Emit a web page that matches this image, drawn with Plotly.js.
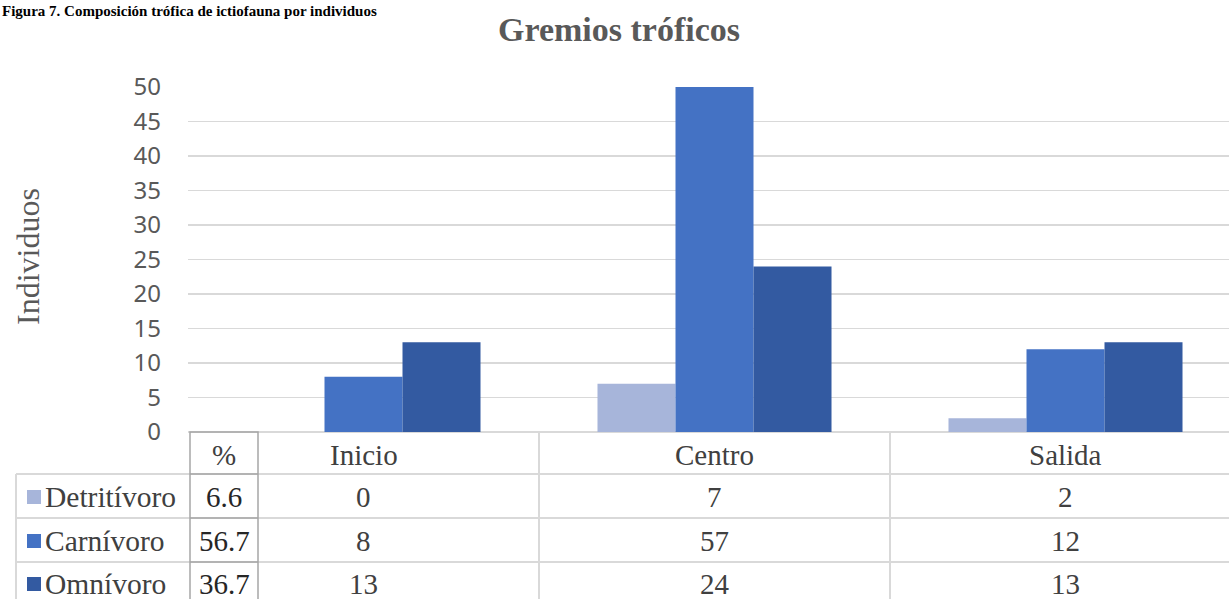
<!DOCTYPE html>
<html>
<head>
<meta charset="utf-8">
<script src="https://cdn.plot.ly/plotly-3.0.1.min.js"></script>
<style>
html,body{margin:0;padding:0;overflow:hidden;background:#fff;}
#chart{width:1260px;height:599px;}
</style>
</head>
<body>
<div id="chart"></div>
<script>
// ---- data ----
const categories = ['Inicio', 'Centro', 'Salida'];
const seriesNames = ['Detritívoro', 'Carnívoro', 'Omnívoro'];
const detritivoro = [0, 7, 2];
const carnivoro = [8, 57, 12];
const omnivoro = [13, 24, 13];
const percentages = ['6.6', '56.7', '36.7'];
const yTickValues = [0, 5, 10, 15, 20, 25, 30, 35, 40, 45, 50];
const chartTitle = 'Gremios tróficos';
const yTitle = 'Individuos';
const caption = 'Figura 7. Composición trófica de ictiofauna por individuos';
const percentHeader = '%';

// ---- styling / layout helpers ----
const colors = ['#A7B5DA', '#4472C4', '#335AA1'];
const seriesValues = [detritivoro, carnivoro, omnivoro];
const W = 1260, H = 599;
const ML = 188, MR = 19, MT = 87, MB = 167;
const plotW = W - ML - MR, plotH = H - MT - MB;
const px = x => (x - ML) / plotW;         // pixel x -> paper
const py = y => (H - MB - y) / plotH;     // pixel y -> paper
const serif = 'Liberation Serif';
const textColor = '#404040';
const gridColor = '#D9D9D9';
const boxColor = '#A6A6A6';

const traces = seriesNames.map((name, i) => ({
  type: 'bar',
  name: name,
  x: categories,
  y: seriesValues[i],
  marker: {color: colors[i], line: {width: 0}},
  hoverinfo: 'x+y+name'
}));

const rowCenters = [497, 541, 584];
const headerCenter = 455;
const annotations = [];

// caption at the very top
annotations.push({
  text: '<b>' + caption + '</b>', xref: 'paper', yref: 'paper',
  x: px(0), y: py(1), xanchor: 'left', yanchor: 'top', showarrow: false,
  font: {family: serif, size: 15, color: '#000'}
});
// y-axis title
annotations.push({
  text: yTitle, xref: 'paper', yref: 'paper', x: px(28), y: py(257),
  xanchor: 'center', yanchor: 'middle', textangle: -90, showarrow: false,
  font: {family: serif, size: 32, color: '#595959'}
});
// header row
annotations.push({
  text: percentHeader, xref: 'paper', yref: 'paper', x: px(224), y: py(headerCenter),
  xanchor: 'center', yanchor: 'middle', showarrow: false,
  font: {family: serif, size: 29, color: textColor}
});
categories.forEach(c => annotations.push({
  text: c, xref: 'x', yref: 'paper', x: c, y: py(headerCenter),
  xanchor: 'center', yanchor: 'middle', showarrow: false,
  font: {family: serif, size: 29, color: textColor}
}));
// rows
seriesNames.forEach((name, i) => {
  annotations.push({
    text: name, xref: 'paper', yref: 'paper', x: px(43), y: py(rowCenters[i]),
    xanchor: 'left', yanchor: 'middle', showarrow: false,
    font: {family: serif, size: 29.5, color: textColor}
  });
  annotations.push({
    text: percentages[i], xref: 'paper', yref: 'paper', x: px(224), y: py(rowCenters[i]),
    xanchor: 'center', yanchor: 'middle', showarrow: false,
    font: {family: serif, size: 29, color: '#262626'}
  });
  categories.forEach((c, j) => annotations.push({
    text: String(seriesValues[i][j]), xref: 'x', yref: 'paper', x: c, y: py(rowCenters[i]),
    xanchor: 'center', yanchor: 'middle', showarrow: false,
    font: {family: serif, size: 29, color: textColor}
  }));
});

// table lines
const shapes = [];
const hLine = (x0, x1, y, color, w) => shapes.push({
  type: 'line', xref: 'paper', yref: 'paper', x0: px(x0), x1: px(x1), y0: py(y), y1: py(y),
  line: {color: color, width: w}, layer: 'above'
});
const vLine = (x, y0, y1, color, w) => shapes.push({
  type: 'line', xref: 'paper', yref: 'paper', x0: px(x), x1: px(x), y0: py(y0), y1: py(y1),
  line: {color: color, width: w}, layer: 'above'
});
[474, 518, 562].forEach(y => hLine(16, W, y, gridColor, 2));
vLine(16, 474, H + 5, gridColor, 2);
// category column separators (between categories on the x scale)
[0.5, 1.5].forEach(xv => shapes.push({
  type: 'line', xref: 'x', yref: 'paper', x0: xv, x1: xv, y0: py(432), y1: py(H + 5),
  line: {color: gridColor, width: 2}
}));
// % box
shapes.push({
  type: 'rect', xref: 'paper', yref: 'paper', x0: px(190), x1: px(258), y0: py(432), y1: py(H + 5),
  line: {color: boxColor, width: 1.5}, fillcolor: 'rgba(0,0,0,0)'
});
[474, 518, 562].forEach(y => hLine(190, 258, y, boxColor, 1.5));
// legend keys
seriesNames.forEach((n, i) => shapes.push({
  type: 'rect', xref: 'paper', yref: 'paper',
  x0: px(27), x1: px(41), y0: py(rowCenters[i] - 7), y1: py(rowCenters[i] + 7),
  fillcolor: colors[i], line: {width: 0}
}));

const layout = {
  width: W, height: H,
  margin: {l: ML, r: MR, t: MT, b: MB, pad: 0},
  paper_bgcolor: '#fff', plot_bgcolor: '#fff',
  showlegend: false,
  barmode: 'group', bargap: 0.3333, bargroupgap: 0,
  title: {
    text: '<b>' + chartTitle + '</b>', xref: 'container', yref: 'container',
    x: 619 / W, y: 1 - 29 / H, xanchor: 'center', yanchor: 'middle',
    font: {family: serif, size: 34, color: '#595959'}
  },
  xaxis: {
    type: 'category', range: [-0.5, 2.5], showticklabels: false, ticks: '',
    showgrid: false, zeroline: false, showline: false, fixedrange: true
  },
  yaxis: {
    range: [0, 50], tickvals: yTickValues, ticktext: yTickValues.map(String),
    showgrid: true, gridcolor: gridColor, gridwidth: 1.5,
    zeroline: true, zerolinecolor: gridColor, zerolinewidth: 2,
    showline: false, ticks: '', ticklabelstandoff: 26,
    tickfont: {family: 'Noto Sans, sans-serif', size: 24, color: '#595959'},
    fixedrange: true
  },
  annotations: annotations,
  shapes: shapes
};

Plotly.newPlot('chart', traces, layout, {displayModeBar: false, staticPlot: true});
</script>
</body>
</html>
